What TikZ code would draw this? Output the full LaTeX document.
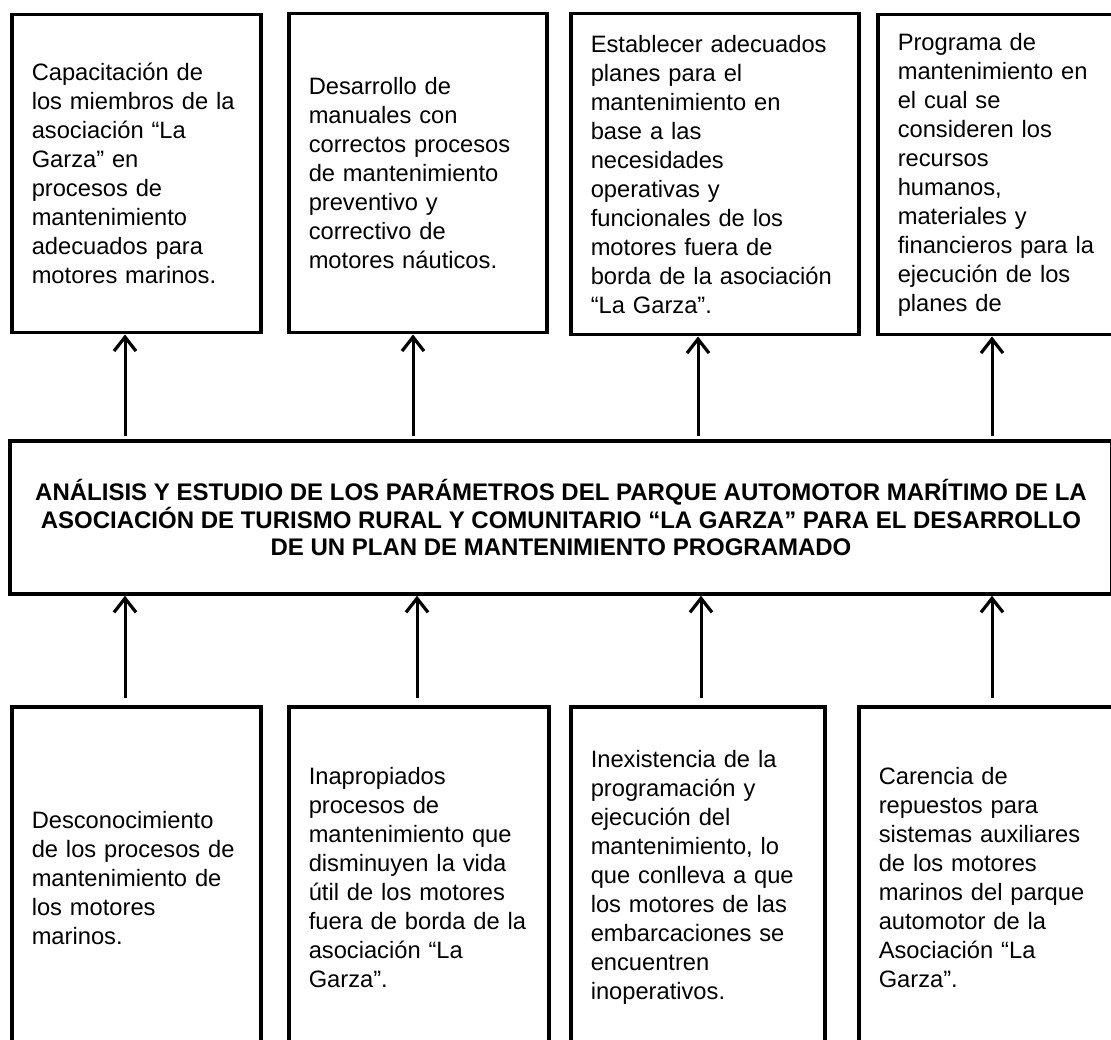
\documentclass[tikz,border=0pt]{standalone}
\usepackage{fontspec}
\setmainfont{Liberation Sans}
\usetikzlibrary{arrows.meta}
\begin{document}
\begin{tikzpicture}[x=1pt,y=-1pt,
  box/.style={draw, line width=3.5pt, anchor=north west, inner xsep=20pt, inner ysep=0pt,
    align=left, font=\fontsize{23.7}{29}\selectfont},
  mainbox/.style={draw, line width=3.5pt, align=center, inner sep=0pt,
    font=\bfseries\fontsize{24}{27.5}\selectfont},
  arr/.style={line width=3pt, -{Straight Barb[length=14pt,width=22pt,line width=3.2pt]}}]
\useasboundingbox (0,0) rectangle (1111,1040);
\clip (0,0) rectangle (1111,1040);

% x positions of connectors
\coordinate (xa) at (125,0);
\coordinate (xb) at (413,0);
\coordinate (xbb) at (417,0);
\coordinate (xc) at (698,0);
\coordinate (xcc) at (701,0);
\coordinate (xd) at (992,0);

% top boxes
\node[box, minimum width=249pt, minimum height=318pt, text width=209pt] (t1) at (10,13)
 {Capacitación de\\ los miembros de la\\ asociación “La\\ Garza” en\\ procesos de\\ mantenimiento\\ adecuados para\\ motores marinos.};
\node[box, minimum width=258pt, minimum height=319pt, text width=218pt] (t2) at (287,12)
 {Desarrollo de\\ manuales con\\ correctos procesos\\ de mantenimiento\\ preventivo y\\ correctivo de\\ motores náuticos.};
\node[box, minimum width=288pt, minimum height=321pt, text width=248pt] (t3) at (569,12)
 {Establecer adecuados\\ planes para el\\ mantenimiento en\\ base a las\\ necesidades\\ operativas y\\ funcionales de los\\ motores fuera de\\ \mbox{borda de la asociación}\\ “La Garza”.};
\node[box, minimum width=260pt, minimum height=320pt, text width=220pt] (t4) at (876,13)
 {Programa de\\ mantenimiento en\\ el cual se\\ consideren los\\ recursos\\ humanos,\\ materiales y\\ financieros para la\\ ejecución de los\\ planes de};

% main box
\node[mainbox, minimum width=1102pt, minimum height=153pt] (main) at (561,517.5)
 {ANÁLISIS Y ESTUDIO DE LOS PARÁMETROS DEL PARQUE AUTOMOTOR MARÍTIMO DE LA\\
  ASOCIACIÓN DE TURISMO RURAL Y COMUNITARIO “LA GARZA” PARA EL DESARROLLO\\
  DE UN PLAN DE MANTENIMIENTO PROGRAMADO};

% bottom boxes
\node[box, minimum width=249pt, minimum height=342pt, text width=209pt] (b1) at (10,705)
 {Desconocimiento\\ de los procesos de\\ mantenimiento de\\ los motores\\ marinos.};
\node[box, minimum width=260pt, minimum height=342pt, text width=220pt] (b2) at (287,705)
 {Inapropiados\\ procesos de\\ \mbox{mantenimiento que}\\ disminuyen la vida\\ útil de los motores\\ \mbox{fuera de borda de la}\\ asociación “La\\ Garza”.};
\node[box, minimum width=254pt, minimum height=342pt, text width=214pt] (b3) at (569,705)
 {Inexistencia de la\\ programación y\\ ejecución del\\ mantenimiento, lo\\ que conlleva a que\\ los motores de las\\ embarcaciones se\\ encuentren\\ inoperativos.};
\node[box, minimum width=260pt, minimum height=342pt, text width=220pt] (b4) at (857,705)
 {Carencia de\\ repuestos para\\ sistemas auxiliares\\ de los motores\\ marinos del parque\\ automotor de la\\ Asociación “La\\ Garza”.};

% upper connectors
\draw[arr] ([yshift=3pt]main.north -| xa) -- (t1.south -| xa);
\draw[arr] ([yshift=3pt]main.north -| xb) -- (t2.south -| xb);
\draw[arr] ([yshift=3pt]main.north -| xc) -- (t3.south -| xc);
\draw[arr] ([yshift=3pt]main.north -| xd) -- (t4.south -| xd);

% lower connectors
\draw[arr] ([yshift=7pt]b1.north -| xa) -- (main.south -| xa);
\draw[arr] ([yshift=7pt]b2.north -| xbb) -- (main.south -| xbb);
\draw[arr] ([yshift=7pt]b3.north -| xcc) -- (main.south -| xcc);
\draw[arr] ([yshift=7pt]b4.north -| xd) -- (main.south -| xd);
\end{tikzpicture}
\end{document}
